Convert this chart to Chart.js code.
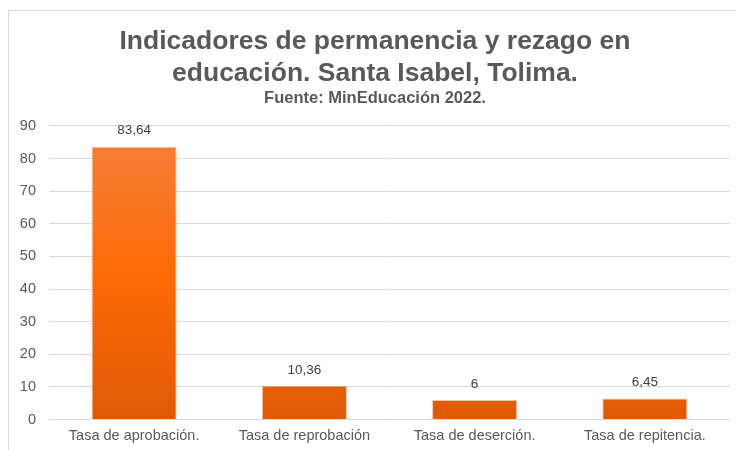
<!DOCTYPE html>
<html>
<head>
<meta charset="utf-8">
<script src="https://cdn.jsdelivr.net/npm/chart.js@4"></script>
<style>
  html, body { margin: 0; padding: 0; background: #fff; }
  #frame { position: absolute; left: 8px; top: 10px; width: 740px; height: 450px; border: 1px solid #d9d9d9; box-sizing: border-box; }
  #wrap { position: absolute; left: 0; top: 0; width: 736px; height: 450px; }
</style>
</head>
<body>
<div id="frame"></div>
<div id="wrap"><canvas id="chart"></canvas></div>
<script>
const categories = ["Tasa de aprobación.", "Tasa de reprobación", "Tasa de deserción.", "Tasa de repitencia."];
const values = [83.64, 10.36, 6, 6.45];
const yTicks = [0, 10, 20, 30, 40, 50, 60, 70, 80, 90];

const gray = "#595959";
const font = "'Liberation Sans', Arial, sans-serif";

// etiquetas de valor encima de cada barra
const valueLabels = {
  id: "valueLabels",
  afterDatasetsDraw(chart) {
    const ctx = chart.ctx;
    const meta = chart.getDatasetMeta(0);
    ctx.save();
    ctx.font = "13.5px " + font;
    ctx.fillStyle = "#404040";
    ctx.textAlign = "center";
    ctx.textBaseline = "middle";
    meta.data.forEach((bar, i) => {
      const txt = String(values[i]).replace(".", ",");
      ctx.fillText(txt, bar.x, bar.y - 16);
    });
    ctx.restore();
  }
};

function barGradient(context) {
  const chart = context.chart;
  const area = chart.chartArea;
  if (!area) return "#ff6a00";
  const el = context.element;
  const top = el && el.y != null ? el.y : area.top;
  const g = chart.ctx.createLinearGradient(0, top, 0, area.bottom);
  g.addColorStop(0, "#f5803e");
  g.addColorStop(0.5, "#fd6b06");
  g.addColorStop(1, "#e05a05");
  return g;
}

new Chart(document.getElementById("chart"), {
  type: "bar",
  data: {
    labels: categories,
    datasets: [{
      data: values,
      backgroundColor: barGradient,
      borderColor: "rgba(200,90,20,0.35)",
      borderWidth: 1,
      barPercentage: 0.5,
      categoryPercentage: 1
    }]
  },
  options: {
    responsive: true,
    maintainAspectRatio: false,
    animation: false,
    layout: { padding: { top: 26, right: 6, left: 20, bottom: 5 } },
    plugins: {
      legend: { display: false },
      tooltip: { enabled: false },
      title: {
        display: true,
        text: ["Indicadores de permanencia y rezago en", "educación. Santa Isabel, Tolima."],
        color: gray,
        font: { family: font, size: 26.5, weight: "bold", lineHeight: 1.2 },
        padding: { top: 0, bottom: 0 }
      },
      subtitle: {
        display: true,
        text: "Fuente: MinEducación 2022.",
        color: gray,
        font: { family: font, size: 16.5, weight: "bold", lineHeight: 1.05 },
        padding: { top: 0, bottom: 19 }
      }
    },
    scales: {
      x: {
        grid: { display: false },
        border: { display: false },
        ticks: { color: gray, font: { family: font, size: 14.5 }, padding: 0, maxRotation: 0 }
      },
      y: {
        min: 0,
        max: 90,
        afterBuildTicks(axis) { axis.ticks = yTicks.map(v => ({ value: v })); },
        afterFit(axis) { axis.width = 29; },
        grid: { color: "#d9d9d9", drawTicks: false },
        border: { display: false },
        ticks: { color: gray, font: { family: font, size: 14.5 }, padding: 13 }
      }
    }
  },
  plugins: [valueLabels]
});
</script>
</body>
</html>
